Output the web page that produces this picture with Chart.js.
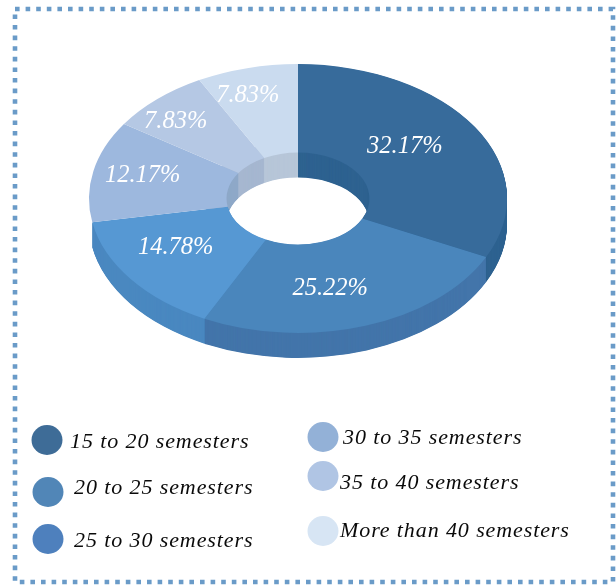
<!DOCTYPE html>
<html>
<head>
<meta charset="utf-8">
<script src="https://cdn.jsdelivr.net/npm/chart.js@4"></script>
<style>
html,body{margin:0;padding:0;background:#fff;}
#wrap{width:616px;height:585px;position:relative;}
canvas{display:block;}
</style>
</head>
<body>
<div id="wrap"><canvas id="c" width="616" height="585"></canvas></div>
<script>
const categories = ['15 to 20 semesters','20 to 25 semesters','25 to 30 semesters','30 to 35 semesters','35 to 40 semesters','More than 40 semesters'];
const shares = [32.17,25.22,14.78,12.17,7.83,7.83];
const faceColors = ['#376b9b','#4a86bc','#5698d3','#9db8de','#b5c8e4','#cadbef'];
const sideColors = ['#2e6290','#4375aa','#4a88c0','#8ea8c8','#a6b7d0','#b7c6d8'];
const legendColors = ['#3e6c97','#5186b7','#4e80bd','#93b1d7','#b0c5e4','#d7e5f4'];

const CX = 298, RX = 209, SQUASH = 0.643, CY = 198.5, DEPTH = 25;
const BACK_WALL_WIDTH = 20;
const labelNudges = [[-12,-4.5],[-13,4.5],[-10,-5],[-18,-4.5],[-28,-10.5],[-16,-15.5]];
const legendLayout = [
  {cx:47,cy:440,tx:70,ty:448},
  {cx:48,cy:492,tx:74,ty:494},
  {cx:48,cy:539,tx:74,ty:547},
  {cx:323,cy:437,tx:343,ty:444},
  {cx:323,cy:476,tx:340,ty:489},
  {cx:323,cy:531,tx:340,ty:537}
];

function tilt(ctx, arc, dy){
  ctx.translate(0, CY + dy);
  ctx.scale(1, SQUASH);
  ctx.translate(0, -arc.y);
}

const pie3d = {
  id:'pie3d',
  beforeDraw(chart){
    const ctx = chart.ctx;
    ctx.save();
    ctx.fillStyle = '#fff';
    ctx.fillRect(0,0,chart.width,chart.height);
    ctx.strokeStyle = '#6a9bc8';
    ctx.lineWidth = 4.6;
    ctx.setLineDash([4.6,6]);
    ctx.strokeRect(15,9,598,573);
    ctx.restore();
  },
  beforeDatasetsDraw(chart){
    const ctx = chart.ctx, arcs = chart.getDatasetMeta(0).data;
    for(let d = DEPTH; d > 0; d -= 0.5){
      arcs.forEach((a,i)=>{
        const outer = i >= 3 ? a.innerRadius + BACK_WALL_WIDTH : a.outerRadius;
        ctx.save();
        tilt(ctx,a,d);
        ctx.fillStyle = sideColors[i];
        ctx.beginPath();
        ctx.arc(a.x,a.y,outer,a.startAngle,a.endAngle);
        ctx.arc(a.x,a.y,a.innerRadius,a.endAngle,a.startAngle,true);
        ctx.closePath();
        ctx.fill();
        ctx.restore();
      });
    }
    ctx.save();
    tilt(ctx,arcs[0],0);
  },
  afterDatasetsDraw(chart){
    const ctx = chart.ctx, arcs = chart.getDatasetMeta(0).data;
    ctx.restore();
    ctx.save();
    ctx.fillStyle = '#fff';
    ctx.font = 'italic 24.5px "Liberation Serif"';
    ctx.textAlign = 'center';
    ctx.textBaseline = 'middle';
    arcs.forEach((a,i)=>{
      const mid = (a.startAngle + a.endAngle)/2;
      const r = (a.outerRadius + a.innerRadius)/2;
      const x = a.x + r*Math.cos(mid) + labelNudges[i][0];
      const y = CY + r*Math.sin(mid)*SQUASH + labelNudges[i][1];
      ctx.fillText(shares[i].toFixed(2)+'%', x, y);
    });
    ctx.restore();
    ctx.save();
    ctx.font = 'italic 22px "Liberation Serif"';
    ctx.letterSpacing = '0.9px';
    ctx.textAlign = 'left';
    ctx.textBaseline = 'alphabetic';
    categories.forEach((c,i)=>{
      const p = legendLayout[i];
      ctx.fillStyle = legendColors[i];
      ctx.beginPath();
      ctx.ellipse(p.cx,p.cy,15.5,15,0,0,Math.PI*2);
      ctx.fill();
      ctx.fillStyle = '#0a0a0a';
      ctx.fillText(c,p.tx,p.ty);
    });
    ctx.restore();
  }
};

new Chart(document.getElementById('c'),{
  type:'doughnut',
  data:{labels:categories,datasets:[{data:shares,backgroundColor:faceColors,borderWidth:0,hoverOffset:0}]},
  options:{
    responsive:false,
    animation:false,
    cutout:'34.2%',
    layout:{padding:{left:CX-RX,right:616-CX-RX,top:0,bottom:585-2*RX}},
    plugins:{legend:{display:false},tooltip:{enabled:false}}
  },
  plugins:[pie3d]
});
</script>
</body>
</html>
